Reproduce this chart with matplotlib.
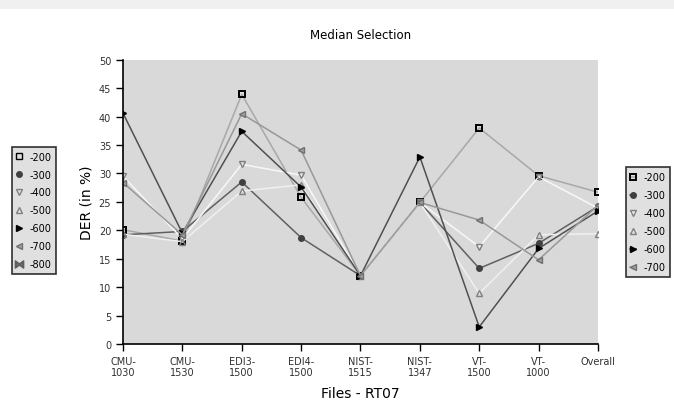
import matplotlib
matplotlib.use("Agg")
import matplotlib.pyplot as plt
from matplotlib.lines import Line2D
from matplotlib.patches import Rectangle

files = ["CMU-\n1030", "CMU-\n1530", "EDI3-\n1500", "EDI4-\n1500", "NIST-\n1515",
	"NIST-\n1347", "VT-\n1500", "VT-\n1000", "Overall"]

der_200 = [20.1, 18.1, 43.9, 25.8, 12.0, 24.9, 38.0, 29.6, 26.7]
der_300 = [19.2, 19.8, 28.5, 18.7, 12.0, 24.9, 13.3, 17.7, 24.2]
der_400 = [29.5, 18.5, 31.6, 29.7, 12.0, 24.9, 17.1, 29.4, 23.9]
der_500 = [19.3, 18.0, 26.9, 28.0, 12.0, 24.9, 8.9, 19.2, 19.4]
der_600 = [40.6, 19.5, 37.4, 27.6, 12.0, 32.9, 3.0, 16.8, 23.4]
der_700 = [28.4, 19.2, 40.5, 34.1, 12.0, 24.9, 21.8, 14.8, 24.4]

labels = ["-200", "-300", "-400", "-500", "-600", "-700"]
series = [der_200, der_300, der_400, der_500, der_600, der_700]

# line colour, marker, marker size, marker face, marker edge
styles = [
	("#a8a8a8", "s", 4.5, "none", "black"),
	("#606060", "o", 4, "#404040", "#404040"),
	("#f8f8f8", "v", 4.5, "none", "#808080"),
	("#f0f0f0", "^", 4.5, "none", "#808080"),
	("#505050", ">", 4.5, "black", "black"),
	("#989898", "<", 4.5, "#a0a0a0", "#707070"),
]

fig = plt.figure(figsize=(6.74, 4.14), dpi=100)
fig.patches.append(Rectangle((0, 0.976), 1, 0.024, transform=fig.transFigure,
	facecolor="#f0f0f0", edgecolor="none"))

ax = fig.add_axes([0.1825, 0.1667, 0.7047, 0.6866])
ax.set_facecolor("#d9d9d9")

x = range(len(files))
for vals, lab, (lc, mk, ms, mf, me) in zip(series, labels, styles):
	ax.plot(x, vals, color=lc, linewidth=1.1, marker=mk, markersize=ms,
		markerfacecolor=mf, markeredgecolor=me,
		markeredgewidth=1.4 if mk == "s" else 1, label=lab)

ax.set_xlim(0, len(files) - 1)
ax.set_ylim(0, 50)
ax.set_yticks(range(0, 51, 5))
ax.set_xticks(list(x))
ax.set_xticklabels(files, fontsize=7, color="#303030")
ax.tick_params(axis="y", labelsize=7, labelcolor="#303030")
ax.tick_params(direction="out", length=5, width=1)
for side in ["top", "right"]:
	ax.spines[side].set_visible(False)
for side in ["left", "bottom"]:
	ax.spines[side].set_linewidth(1.2)

ax.set_title("Median Selection", fontsize=8.5, pad=16)
ax.set_ylabel("DER (in %)", fontsize=10)
ax.set_xlabel("Files - RT07", fontsize=10, labelpad=6)

legend_kw = dict(loc="upper left", fontsize=7, frameon=True, fancybox=False,
	handlelength=0.6, handletextpad=0.7, borderpad=0.5, labelspacing=0.82)

# right legend: the plotted series
leg = fig.legend(bbox_to_anchor=(0.921, 0.605), **legend_kw)

# left legend lists -800 as well
handles = [Line2D([], [], linestyle="none", marker=mk, markersize=ms,
	markerfacecolor=mf, markeredgecolor=me) for (lc, mk, ms, mf, me) in styles]
handles.append(Line2D([], [], linestyle="none", marker="$\u22c8$", markersize=6,
	color="#606060"))
leg2 = fig.legend(handles, labels + ["-800"], bbox_to_anchor=(0.010, 0.655),
	**legend_kw)

for lg in [leg, leg2]:
	lg.get_frame().set_edgecolor("black")
	lg.get_frame().set_facecolor("#d9d9d9")
	lg.get_frame().set_linewidth(1.2)

fig.savefig("out.png", dpi=100)
